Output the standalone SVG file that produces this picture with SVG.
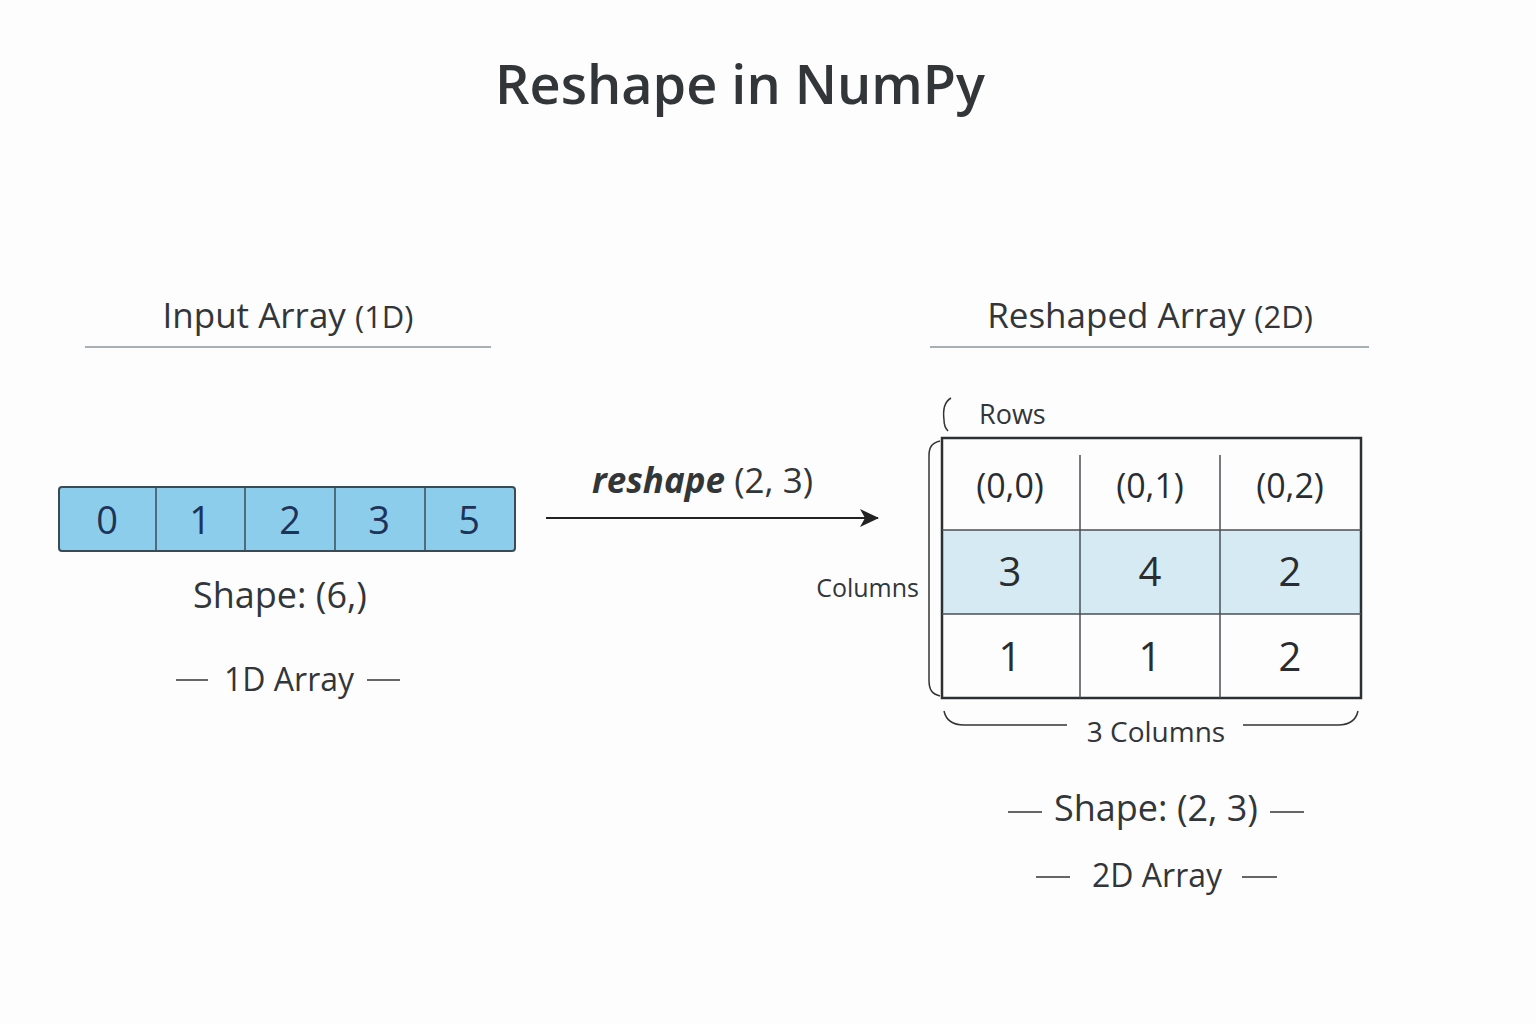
<svg xmlns="http://www.w3.org/2000/svg" width="1536" height="1024" viewBox="0 0 1536 1024">
<defs>
<style>
text{font-family:"Open Sans","Noto Sans","DejaVu Sans",sans-serif;fill:#333638}
.t{font-size:35px;text-anchor:middle;font-weight:500}
.num{font-size:38px;text-anchor:middle;fill:#1e3358}
.g{font-size:40px;text-anchor:middle;fill:#2a2d30}
.idx{font-size:34px;text-anchor:middle;fill:#2a2d30}
.ln{stroke:#333;stroke-width:1.5;fill:none}
.ul{stroke:#a9b0b4;stroke-width:2}
</style>
<marker id="ah" markerWidth="20" markerHeight="20" refX="18" refY="10" orient="auto" markerUnits="userSpaceOnUse" viewBox="0 0 20 20">
<path d="M0,1 L19,10 L0,19 L5,10 Z" fill="#222"/>
</marker>
</defs>
<rect width="1536" height="1024" fill="#fdfdfd"/>
<text x="740" y="104" font-size="54" font-weight="600" text-anchor="middle" fill="#3a3c3e">Reshape in NumPy</text>

<g id="input-header">
<text x="288" y="328" class="t">Input Array <tspan font-size="31">(1D)</tspan></text>
<line x1="85" y1="347" x2="491" y2="347" class="ul"/>
</g>
<g id="output-header">
<text x="1150" y="328" class="t">Reshaped Array <tspan font-size="31">(2D)</tspan></text>
<line x1="930" y1="347" x2="1369" y2="347" class="ul"/>
</g>

<g id="array-1d">
<rect x="59" y="487" width="456" height="64" rx="3" fill="#8dcdec" stroke="#3b4b56" stroke-width="2"/>
<g stroke="#3b4b56" stroke-width="1.5">
<line x1="156" y1="487" x2="156" y2="551"/>
<line x1="245" y1="487" x2="245" y2="551"/>
<line x1="335" y1="487" x2="335" y2="551"/>
<line x1="425" y1="487" x2="425" y2="551"/>
</g>
<text x="107" y="534" class="num">0</text>
<text x="200" y="534" class="num">1</text>
<text x="290" y="534" class="num">2</text>
<text x="379" y="534" class="num">3</text>
<text x="469" y="534" class="num">5</text>
</g>
<g id="shape-1d">
<text x="280" y="608" font-size="36" text-anchor="middle" font-weight="500">Shape: (6,)</text>
</g>
<g id="label-1d">
<line x1="176" y1="680" x2="208" y2="680" class="ln"/>
<text x="289" y="691" font-size="32" text-anchor="middle" font-weight="500">1D Array</text>
<line x1="367" y1="680" x2="400" y2="680" class="ln"/>
</g>

<g id="connectors">
<line x1="546" y1="518" x2="878" y2="518" stroke="#222" stroke-width="2.2" marker-end="url(#ah)"/>
<text x="592" y="493" font-size="35"><tspan font-weight="700" font-style="italic">reshape</tspan> (2, 3)</text>
</g>

<g id="array-2d">
<rect x="942" y="530" width="419" height="84" fill="#d5eaf3"/>
<rect x="942" y="438" width="419" height="260" fill="none" stroke="#2d3033" stroke-width="2.5"/>
<g stroke="#4a4f53" stroke-width="1.5">
<line x1="942" y1="530" x2="1361" y2="530"/>
<line x1="942" y1="614" x2="1361" y2="614"/>
<line x1="1080" y1="455" x2="1080" y2="698"/>
<line x1="1220" y1="455" x2="1220" y2="698"/>
</g>
<text x="1010" y="498" class="idx">(0,0)</text>
<text x="1150" y="498" class="idx">(0,1)</text>
<text x="1290" y="498" class="idx">(0,2)</text>
<text x="1010" y="586" class="g">3</text>
<text x="1150" y="586" class="g">4</text>
<text x="1290" y="586" class="g">2</text>
<text x="1010" y="671" class="g">1</text>
<text x="1150" y="671" class="g">1</text>
<text x="1290" y="671" class="g">2</text>
</g>

<g id="rows-label">
<path d="M951,398 C944,402 943,412 944,420 C944,425 946,429 948,431" class="ln"/>
<text x="979" y="424" font-size="27" font-weight="500">Rows</text>
</g>
<g id="columns-label">
<path d="M940,441 C931,443 929,448 929,456 L929,680 C929,690 932,694 940,696" class="ln"/>
<text x="919" y="597" font-size="25" text-anchor="end" font-weight="500">Columns</text>
</g>
<g id="bottom-brace">
<path d="M944,711 C946,720 952,725 964,725 L1067,725" class="ln"/>
<path d="M1243,725 L1338,725 C1350,725 1356,720 1358,711" class="ln"/>
<text x="1156" y="742" font-size="28" text-anchor="middle" font-weight="500">3 Columns</text>
</g>
<g id="shape-2d">
<line x1="1008" y1="812" x2="1042" y2="812" class="ln"/>
<text x="1156" y="821" font-size="36" text-anchor="middle" font-weight="500">Shape: (2, 3)</text>
<line x1="1270" y1="812" x2="1304" y2="812" class="ln"/>
</g>
<g id="label-2d">
<line x1="1036" y1="877" x2="1070" y2="877" class="ln"/>
<text x="1157" y="887" font-size="32" text-anchor="middle" font-weight="500">2D Array</text>
<line x1="1242" y1="877" x2="1277" y2="877" class="ln"/>
</g>
</svg>
